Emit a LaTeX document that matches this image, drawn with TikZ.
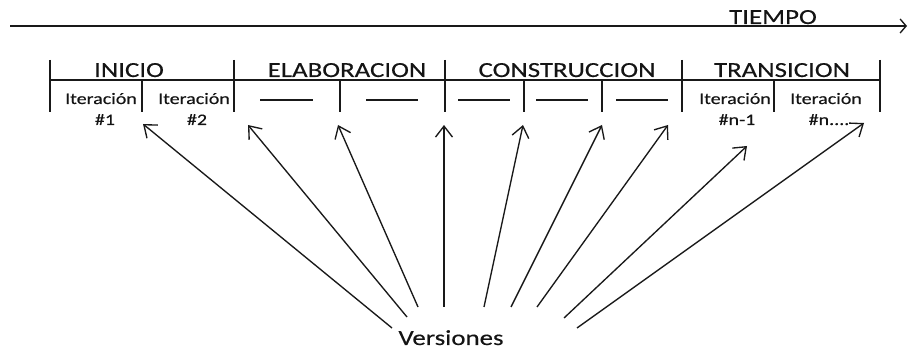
\documentclass[tikz,border=0pt]{standalone}
\usepackage{fontspec}
\setmainfont{Carlito}[FakeStretch=1.25,FakeBold=0.3]
\usetikzlibrary{arrows.meta}
\begin{document}
\begin{tikzpicture}[x=1pt,y=-1pt,
  ln/.style={line width=1.35pt, draw=black!90},
  arr/.style={ln, -{Straight Barb[length=11pt,width=17pt,line width=1.35pt]}},
  big/.style={font=\fontsize{21.5}{24}\selectfont, anchor=base, inner sep=0, text=black!92},
  small/.style={font=\fontsize{16}{18}\selectfont, anchor=base, inner sep=0, text=black!92}]
\useasboundingbox (0,0) rectangle (908,352);

% time axis
\coordinate (t0) at (10,26);
\coordinate (t1) at (907,26);
\draw[ln, -{Straight Barb[length=6pt,width=14pt,line width=1.35pt]}] (t0) -- (t1);
\node[big] (tiempo) at (773,24) {TIEMPO};

% phase frame
\coordinate (h0) at (50,80);
\coordinate (h1) at (880,80);
\draw[ln] (h0) -- (h1);
\foreach \x [count=\i] in {50,234,445,682,880}{
  \coordinate (pa\i) at (\x,60);
  \coordinate (pb\i) at (\x,112);
  \draw[ln] (pa\i) -- (pb\i);
}
\foreach \x [count=\i] in {142,340,524,602,774}{
  \coordinate (sa\i) at (\x,81);
  \coordinate (sb\i) at (\x,112);
  \draw[ln] (sa\i) -- (sb\i);
}

% phase names
\node[big] (inicio) at (129,77) {INICIO};
\node[big] (elab) at (347,77) {ELABORACION};
\node[big] (cons) at (567,77) {CONSTRUCCION};
\node[big] (trans) at (782,77) {TRANSICION};

% iteration labels
\node[small] (it1) at (101,104) {Iteración};
\node[small] (n1) at (105,125) {\#1};
\node[small] (it2) at (194,104) {Iteración};
\node[small] (n2) at (197,125) {\#2};
\node[small] (it8) at (735,104) {Iteración};
\node[small] (n8) at (737,125) {\#n-1};
\node[small] (it9) at (826,104) {Iteración};
\node[small] (n9) at (829,125) {\#n....};

% blanks
\foreach \a/\b [count=\i] in {260/313,366/418,458/510,536/588,616/668}{
  \coordinate (ba\i) at (\a,100);
  \coordinate (bb\i) at (\b,100);
  \draw[line width=1.1pt, draw=black!90] (ba\i) -- (bb\i);
}

% versions
\node[big] (versiones) at (451,345) {Versiones};

\foreach \tx/\ty/\hx/\hy [count=\i] in {
  392/328/143/124,
  407/317/248/125,
  418/307/338/125,
  444/307/444/125,
  484/307/523/125,
  511/307/602/125,
  537/307/668/125,
  564/318/747/146,
  577/328/864/123}{
  \coordinate (vt\i) at (\tx,\ty);
  \coordinate (vh\i) at (\hx,\hy);
  \draw[arr] (vt\i) -- (vh\i);
}
\end{tikzpicture}
\end{document}
